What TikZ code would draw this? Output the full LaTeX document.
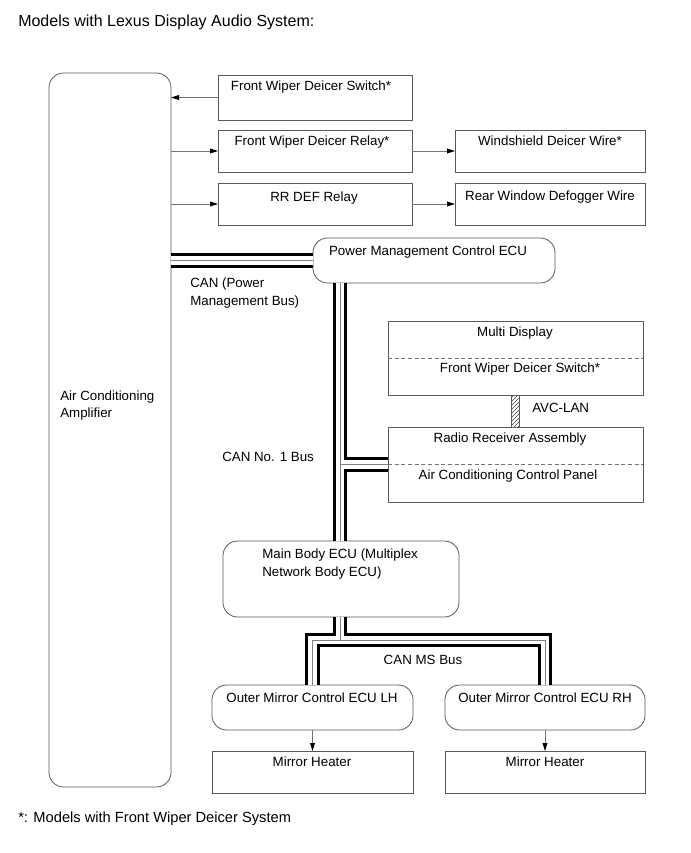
\documentclass[tikz,border=0pt]{standalone}
\usepackage{fontspec}
\setmainfont{Liberation Sans}
\usetikzlibrary{arrows.meta,patterns,calc}
\newcommand\drawbox[6]{\node[#6, minimum width={(#4-#2)*0.75pt}, minimum height={(#5-#3)*0.75pt}] (#1) at ({(#2+#4)/2},{(#3+#5)/2}) {};}
\begin{document}
\begin{tikzpicture}[x=0.75pt,y=-0.75pt,
  box/.style={draw=black!65, line width=0.6pt, inner sep=0pt, outer sep=0pt},
  rbox/.style={box, rounded corners=11pt},
  txt/.style={inner sep=0pt, font=\fontsize{10}{12}\selectfont, text height=7.2pt, text depth=0pt},
  mtxt/.style={inner sep=0pt, font=\fontsize{10}{13}\selectfont, align=left, anchor=west},
  conn/.style={draw=black!55, line width=0.6pt, -{Triangle[length=6pt,width=3.6pt,color=black]}},
  divider/.style={draw=black!55, line width=0.5pt, dash pattern=on 3pt off 2pt},
]
\useasboundingbox (0,0) rectangle (690,853);

% title and footnote
\node[inner sep=0pt, anchor=west, font=\fontsize{12}{14}\selectfont, text height=8.6pt, text depth=0pt] (title) at (18,21) {Models with Lexus Display Audio System:};
\node[inner sep=0pt, anchor=west, font=\fontsize{11}{13}\selectfont, text height=7.9pt, text depth=0pt] (foot) at (18,817) {*: Models with Front Wiper Deicer System};

% boxes
\drawbox{amp}{49}{73}{171}{787}{rbox}
\drawbox{fwds}{218}{75}{412}{120}{box}
\drawbox{fwdr}{218}{130}{412}{172}{box}
\drawbox{wdw}{455}{130}{645}{172}{box}
\drawbox{rrdef}{218}{183}{412}{225}{box}
\drawbox{rwdw}{455}{183}{645}{225}{box}
\drawbox{pmc}{313}{238}{555}{283}{rbox}
\drawbox{md}{388}{321}{643}{395}{box}
\drawbox{rra}{388}{427}{643}{502}{box}
\drawbox{mb}{223}{541}{459}{617}{rbox}
\drawbox{lh}{212}{685}{413}{730}{rbox}
\drawbox{rh}{445}{685}{645}{730}{rbox}
\drawbox{mhl}{212}{751}{413}{793}{box}
\drawbox{mhr}{445}{751}{645}{793}{box}

% AVC-LAN hatched link
\node[draw=black!65, line width=0.5pt, pattern=north east lines, pattern color=black!70, inner sep=0pt, minimum width=6pt, minimum height={32*0.75pt}] (avc) at (515,411) {};

% dividers
\draw[divider] (md.west) -- (md.east);
\draw[divider] (rra.west) -- (rra.east);

% texts
\node[mtxt] (ampt) at (60,405.5) {Air Conditioning\\Amplifier};
\node[txt] (fwdst) at (311,86) {Front Wiper Deicer Switch*};
\node[txt] (fwdrt) at (312,141) {Front Wiper Deicer Relay*};
\node[txt] (wdwt) at (550,141) {Windshield Deicer Wire*};
\node[txt] (rrdeft) at (314,197) {RR DEF Relay};
\node[txt] (rwdwt) at (550,196) {Rear Window Defogger Wire};
\node[txt] (pmct) at (428,251) {Power Management Control ECU};
\node[mtxt] (cant) at (190,293) {CAN (Power\\Management Bus)};
\node[txt] (mdt) at (515,332) {Multi Display};
\node[txt] (mdst) at (520,368) {Front Wiper Deicer Switch*};
\node[txt, anchor=west] (avct) at (532,408) {AVC-LAN};
\node[txt] (rrat) at (510,438) {Radio Receiver Assembly};
\node[txt] (acct) at (508,475) {Air Conditioning Control Panel};
\node[txt, anchor=west] (can1t) at (222,457) {CAN No. 1 Bus};
\node[mtxt] (mbt) at (262,564) {Main Body ECU (Multiplex\\Network Body ECU)};
\node[txt] (canmst) at (423,660) {CAN MS Bus};
\node[txt] (lht) at (312,698) {Outer Mirror Control ECU LH};
\node[txt] (rht) at (545,698) {Outer Mirror Control ECU RH};
\node[txt] (mhlt) at (312,762) {Mirror Heater};
\node[txt] (mhrt) at (545,762) {Mirror Heater};

% connectors
\draw[conn] (fwds.west) -- (fwds.west -| amp.east);
\draw[conn] (fwdr.west -| amp.east) -- (fwdr.west);
\draw[conn] (fwdr.east) -- (wdw.west);
\draw[conn] (rrdef.west -| amp.east) -- (rrdef.west);
\draw[conn] (rrdef.east) -- (rwdw.west);
\draw[conn] (lh.south) -- (mhl.north);
\draw[conn] (rh.south) -- (mhr.north);

% buses
\coordinate (busx) at (340,0);
\coordinate (split) at (0,640);
\foreach \w/\c in {11pt/black, 6.5pt/white, 0.75pt/black!50}{
  \draw[line width=\w, draw=\c, line join=miter]
    (pmc.west) -- (pmc.west -| amp.east)
    (pmc.south -| busx) -- (mb.north -| busx)
    (busx |- rra.west) -- (rra.west)
    (mb.south -| busx) -- (busx |- split)
    (lh.north) -- (lh.north |- split) -- (rh.north |- split) -- (rh.north);
}
\end{tikzpicture}
\end{document}
